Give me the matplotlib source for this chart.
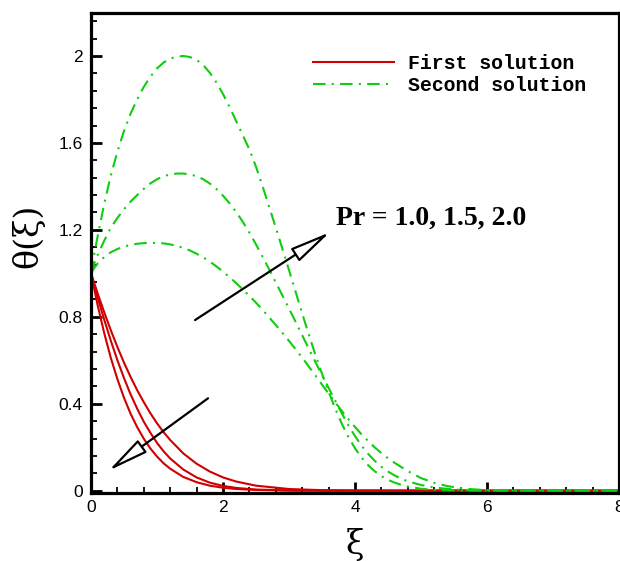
import matplotlib
matplotlib.use("Agg")
import matplotlib.pyplot as plt
from matplotlib.patches import FancyArrowPatch
from matplotlib.lines import Line2D
from matplotlib.ticker import MultipleLocator

# ---------------- data ----------------
# First solution (red, solid), Pr = 1.0, 1.5, 2.0
xi_first = [0.0, 0.1, 0.2, 0.3, 0.4, 0.5, 0.6, 0.7, 0.8, 0.9, 1.0, 1.1, 1.2,
            1.4, 1.6, 1.8, 2.0, 2.2, 2.5, 3.0, 3.5, 4.0, 5.0, 6.0, 7.0, 8.0]
first_pr10 = [1.0, 0.908, 0.821, 0.738, 0.661, 0.589, 0.523, 0.462, 0.407,
              0.356, 0.310, 0.269, 0.233, 0.171, 0.124, 0.088, 0.061, 0.042,
              0.023, 0.0077, 0.0023, 0.0006, 0.0, 0.0, 0.0, 0.0]
first_pr15 = [1.0, 0.890, 0.787, 0.690, 0.600, 0.518, 0.443, 0.377, 0.317,
              0.266, 0.220, 0.181, 0.148, 0.097, 0.061, 0.037, 0.022, 0.0127,
              0.0052, 0.001, 0.0002, 0.0, 0.0, 0.0, 0.0, 0.0]
first_pr20 = [1.0, 0.854, 0.725, 0.611, 0.513, 0.427, 0.354, 0.292, 0.239,
              0.194, 0.157, 0.126, 0.101, 0.063, 0.039, 0.023, 0.0136, 0.0077,
              0.0032, 0.0006, 0.0, 0.0, 0.0, 0.0, 0.0, 0.0]

# Second solution (green, dash-dot), Pr = 1.0, 1.5, 2.0
xi_second = [0.0, 0.05, 0.1, 0.2, 0.3, 0.4, 0.5, 0.6, 0.7, 0.8, 0.9, 1.0,
             1.1, 1.2, 1.3, 1.4, 1.5, 1.6, 1.7, 1.8, 1.9, 2.0, 2.1, 2.2, 2.3,
             2.4, 2.5, 2.6, 2.7, 2.8, 2.9, 3.0, 3.1, 3.2, 3.3, 3.4, 3.5, 3.6,
             3.7, 3.8, 3.9, 4.0, 4.1, 4.2, 4.3, 4.4, 4.5, 4.6, 4.7, 4.8, 5.0,
             5.2, 5.4, 5.6, 5.8, 6.0, 6.5, 7.0, 8.0]
second_pr10 = [1.0, 1.025, 1.045, 1.075, 1.097, 1.112, 1.123, 1.131, 1.136,
               1.139, 1.14, 1.14, 1.138, 1.133, 1.126, 1.117, 1.105, 1.09,
               1.073, 1.054, 1.032, 1.008, 0.982, 0.955, 0.926, 0.896, 0.865,
               0.832, 0.797, 0.762, 0.726, 0.689, 0.651, 0.612, 0.571, 0.53,
               0.488, 0.447, 0.407, 0.367, 0.329, 0.293, 0.259, 0.228, 0.199,
               0.173, 0.149, 0.128, 0.109, 0.09, 0.058, 0.036, 0.021, 0.012,
               0.006, 0.003, 0.001, 0.0, 0.0]
second_pr15 = [1.0, 1.045, 1.085, 1.15, 1.21, 1.255, 1.295, 1.33, 1.36, 1.389,
               1.414, 1.433, 1.447, 1.455, 1.459, 1.459, 1.455, 1.447, 1.433,
               1.413, 1.388, 1.357, 1.322, 1.282, 1.237, 1.187, 1.133, 1.076,
               1.018, 0.958, 0.898, 0.838, 0.777, 0.715, 0.653, 0.592, 0.532,
               0.473, 0.414, 0.356, 0.301, 0.251, 0.207, 0.169, 0.137, 0.11,
               0.088, 0.07, 0.055, 0.043, 0.026, 0.015, 0.008, 0.004, 0.002,
               0.001, 0.0, 0.0, 0.0]
second_pr20 = [1.0, 1.09, 1.17, 1.32, 1.45, 1.56, 1.655, 1.735, 1.80, 1.858,
               1.905, 1.943, 1.97, 1.988, 1.997, 2.0, 1.995, 1.982, 1.958,
               1.923, 1.878, 1.825, 1.765, 1.70, 1.635, 1.57, 1.49, 1.40, 1.305,
               1.21, 1.113, 1.015, 0.915, 0.815, 0.718, 0.625, 0.538, 0.455,
               0.378, 0.308, 0.247, 0.195, 0.152, 0.117, 0.089, 0.067, 0.05,
               0.037, 0.027, 0.019, 0.009, 0.004, 0.002, 0.001, 0.0, 0.0, 0.0,
               0.0, 0.0]

x_ticks = [0, 2, 4, 6, 8]
y_ticks = [0, 0.4, 0.8, 1.2, 1.6, 2.0]
y_tick_labels = ["0", "0.4", "0.8", "1.2", "1.6", "2"]
legend_labels = ["First solution", "Second solution"]
pr_label = "Pr = 1.0, 1.5, 2.0"

RED = "#D00000"
GREEN = "#11CC11"

# ---------------- figure ----------------
fig = plt.figure(figsize=(6.2, 5.61), dpi=100)
ax = fig.add_axes([0.1468, 0.1207, 0.8516, 0.857])

lw = 1.5
dashdot = (0, (6, 3, 1, 3))
for ys in (first_pr10, first_pr15, first_pr20):
    ax.plot(xi_first, ys, color=RED, lw=lw)
for ys in (second_pr10, second_pr15, second_pr20):
    ax.plot(xi_second, ys, color=GREEN, lw=lw, linestyle=dashdot)

ax.set_xlim(0, 8)
ax.set_ylim(-0.012, 2.2)

ax.set_xticks(x_ticks)
ax.set_xticklabels([str(t) for t in x_ticks])
ax.set_yticks(y_ticks)
ax.set_yticklabels(y_tick_labels)
ax.xaxis.set_minor_locator(MultipleLocator(0.4))
ax.yaxis.set_minor_locator(MultipleLocator(0.08))

ax.tick_params(which="both", direction="in", top=False, right=False)
ax.tick_params(which="major", length=8, width=2.0, labelsize=12.5)
ax.tick_params(axis="y", which="major", pad=6)
ax.tick_params(axis="x", which="major", pad=5)
ax.tick_params(which="minor", length=4.5, width=1.3)
for lab in ax.get_xticklabels() + ax.get_yticklabels():
    lab.set_fontfamily("Liberation Sans")

for s in ax.spines.values():
    s.set_linewidth(2.3)

ax.set_xlabel("ξ", fontsize=24, family="DejaVu Serif")
ax.set_ylabel("θ(ξ)", fontsize=24, family="DejaVu Serif")
ax.xaxis.label.set_va("center")
ax.yaxis.label.set_va("center")
ax.xaxis.set_label_coords(0.5, -0.1075)
ax.yaxis.set_label_coords(-0.12, 0.535)

# legend
handles = [Line2D([], [], color=RED, lw=lw),
           Line2D([], [], color=GREEN, lw=lw, linestyle=dashdot)]
ax.legend(handles, legend_labels,
          loc="upper left", bbox_to_anchor=(0.405, 0.93),
          frameon=False, handlelength=4.1, handletextpad=0.7,
          labelspacing=0.15, borderaxespad=0.0,
          prop={"family": "Liberation Mono", "weight": "bold", "size": 14.3})

# annotation text and arrows
ax.text(3.71, 1.255, pr_label, family="Liberation Serif",
        weight="bold", fontsize=20, ha="left", va="center")

for tail, tip in [((1.576, 0.785), (3.62, 1.189)),
                  ((1.773, 0.425), (0.268, 0.092))]:
    arr = FancyArrowPatch(tail, tip, arrowstyle="-|>,head_length=25,head_width=4.7",
                          mutation_scale=1, lw=1.6, edgecolor="black",
                          facecolor="white", shrinkA=0, shrinkB=0, zorder=5)
    ax.add_patch(arr)

fig.savefig("out.png", dpi=100)
